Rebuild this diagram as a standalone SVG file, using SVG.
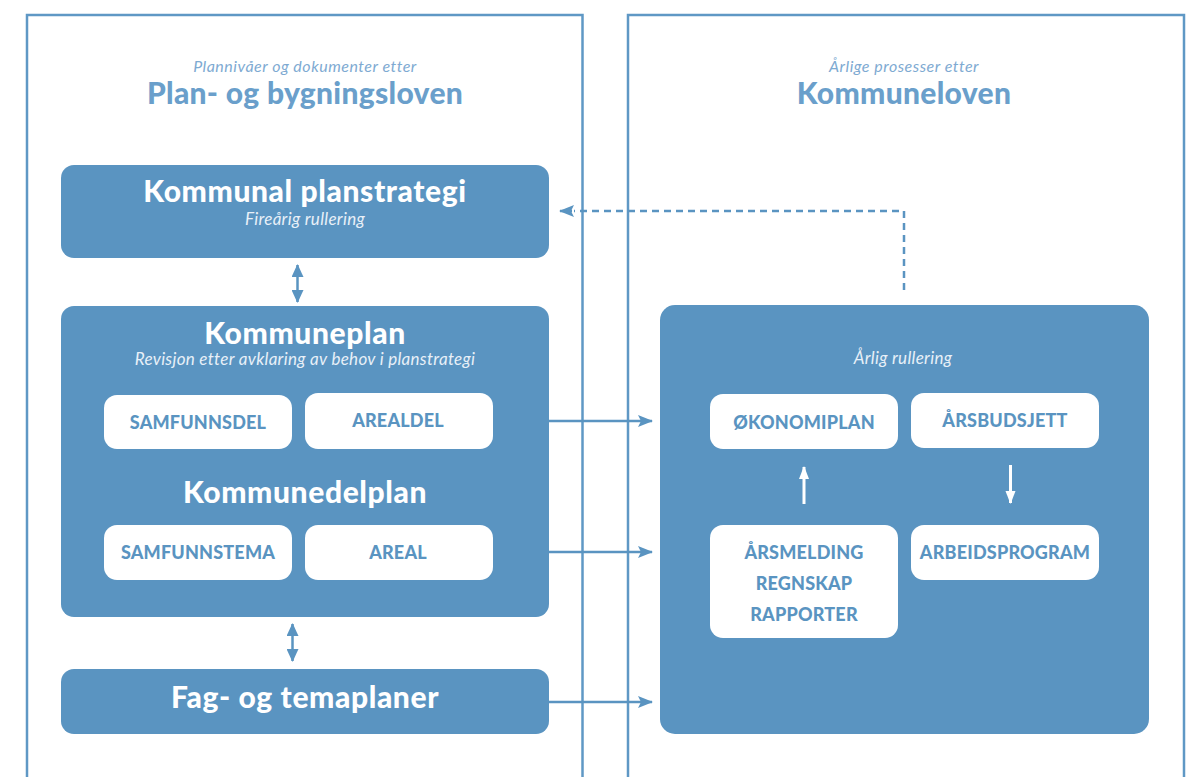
<svg xmlns="http://www.w3.org/2000/svg" width="1195" height="777" viewBox="0 0 1195 777">
<style>
.panel{fill:none;stroke:#5f98c5;stroke-width:2.5}
.box{fill:#5a94c1}
.wbox{fill:#ffffff}
.hsub{font-family:Lato,"Liberation Sans",sans-serif;font-style:italic;font-weight:400;font-size:16px;fill:#7eaad2;text-anchor:middle;letter-spacing:0.5px}
.htitle{font-family:Lato,"Liberation Sans",sans-serif;font-weight:900;font-size:30px;fill:#6a9fcb;text-anchor:middle;letter-spacing:0.3px}
.btitle{font-family:Lato,"Liberation Sans",sans-serif;font-weight:900;font-size:30px;fill:#ffffff;text-anchor:middle;letter-spacing:0.6px}
.bsub{font-family:Lato,"Liberation Sans",sans-serif;font-style:italic;font-weight:400;font-size:17px;fill:#e8f0f8;text-anchor:middle;letter-spacing:0.3px}
.cap{font-family:Lato,"Liberation Sans",sans-serif;font-weight:900;font-size:18px;fill:#5a94c1;text-anchor:middle;letter-spacing:0.2px}
.conn{fill:none;stroke:#5a94c1;stroke-width:2.5}
.dash{fill:none;stroke:#5a94c1;stroke-width:2.5;stroke-dasharray:7 5}
.wconn{fill:none;stroke:#ffffff;stroke-width:3}
</style>
<defs>
<marker id="ah" markerUnits="userSpaceOnUse" markerWidth="16" markerHeight="12" refX="14" refY="6" orient="auto">
<path d="M0,0 L15,6 L0,12 L3,6 z" fill="#5a94c1"/>
</marker>
<marker id="ahd" markerUnits="userSpaceOnUse" markerWidth="14" markerHeight="12" refX="12" refY="6" orient="auto-start-reverse">
<path d="M0,0 L13,6 L0,12 z" fill="#5a94c1"/>
</marker>
<marker id="ahw" markerUnits="userSpaceOnUse" markerWidth="14" markerHeight="12" refX="12" refY="5" orient="auto">
<path d="M0,0 L13,5 L0,10 z" fill="#ffffff"/>
</marker>
</defs>

<g id="panel-left">
<rect class="panel" x="27" y="15" width="555.5" height="800"/>
<text class="hsub" x="305" y="72">Plannivåer og dokumenter etter</text>
<text class="htitle" x="305" y="104">Plan- og bygningsloven</text>
</g>
<g id="panel-right">
<rect class="panel" x="628" y="15" width="556" height="800"/>
<text class="hsub" x="904" y="72">Årlige prosesser etter</text>
<text class="htitle" x="904" y="104">Kommuneloven</text>
</g>

<g id="kommunal-planstrategi">
<rect class="box" x="61" y="165" width="488" height="93" rx="13"/>
<text class="btitle" x="305" y="202">Kommunal planstrategi</text>
<text class="bsub" x="305" y="225">Fireårig rullering</text>
</g>

<g id="kommuneplan">
<rect class="box" x="61" y="306" width="488" height="311" rx="13"/>
<text class="btitle" x="305" y="344">Kommuneplan</text>
<text class="bsub" x="305" y="365">Revisjon etter avklaring av behov i planstrategi</text>
<text class="btitle" x="305" y="503">Kommunedelplan</text>
</g>
<g id="samfunnsdel">
<rect class="wbox" x="104" y="395" width="188" height="54" rx="13"/>
<text class="cap" x="198" y="429">SAMFUNNSDEL</text>
</g>
<g id="arealdel">
<rect class="wbox" x="305" y="393" width="188" height="56" rx="13"/>
<text class="cap" x="398" y="427">AREALDEL</text>
</g>
<g id="samfunnstema">
<rect class="wbox" x="104" y="525" width="188" height="55" rx="13"/>
<text class="cap" x="198" y="559">SAMFUNNSTEMA</text>
</g>
<g id="areal">
<rect class="wbox" x="305" y="525" width="188" height="55" rx="13"/>
<text class="cap" x="398" y="559">AREAL</text>
</g>

<g id="fag-og-temaplaner">
<rect class="box" x="61" y="669" width="488" height="65" rx="13"/>
<text class="btitle" x="305" y="708">Fag- og temaplaner</text>
</g>

<g id="arlig-rullering">
<rect class="box" x="660" y="305" width="489" height="429" rx="15"/>
<text class="bsub" x="903" y="364">Årlig rullering</text>
</g>
<g id="okonomiplan">
<rect class="wbox" x="710" y="394" width="188" height="55" rx="13"/>
<text class="cap" x="804" y="429">ØKONOMIPLAN</text>
</g>
<g id="arsbudsjett">
<rect class="wbox" x="911" y="393" width="188" height="55" rx="13"/>
<text class="cap" x="1005" y="427">ÅRSBUDSJETT</text>
</g>
<g id="arsmelding">
<rect class="wbox" x="710" y="525" width="188" height="113" rx="13"/>
<text class="cap" x="804" y="559">ÅRSMELDING</text>
<text class="cap" x="804" y="590">REGNSKAP</text>
<text class="cap" x="804" y="621">RAPPORTER</text>
</g>
<g id="arbeidsprogram">
<rect class="wbox" x="911" y="525" width="188" height="55" rx="13"/>
<text class="cap" x="1005" y="559">ARBEIDSPROGRAM</text>
</g>

<g id="connectors">
<line class="conn" x1="297.5" y1="265" x2="297.5" y2="302" stroke-width="3" marker-start="url(#ahd)" marker-end="url(#ahd)"/>
<line class="conn" x1="292.5" y1="624" x2="292.5" y2="661" stroke-width="3" marker-start="url(#ahd)" marker-end="url(#ahd)"/>
<line class="conn" x1="549" y1="421" x2="652" y2="421" marker-end="url(#ah)"/>
<line class="conn" x1="549" y1="552" x2="652" y2="552" marker-end="url(#ah)"/>
<line class="conn" x1="549" y1="702" x2="652" y2="702" marker-end="url(#ah)"/>
<polyline class="dash" points="904,290 904,211 574,211"/>
<line class="conn" x1="572" y1="211" x2="560" y2="211" marker-end="url(#ah)" stroke-width="0"/>
<line class="wconn" x1="804" y1="504" x2="804" y2="467" marker-end="url(#ahw)"/>
<line class="wconn" x1="1010.5" y1="465" x2="1010.5" y2="503" marker-end="url(#ahw)"/>
</g>
</svg>
